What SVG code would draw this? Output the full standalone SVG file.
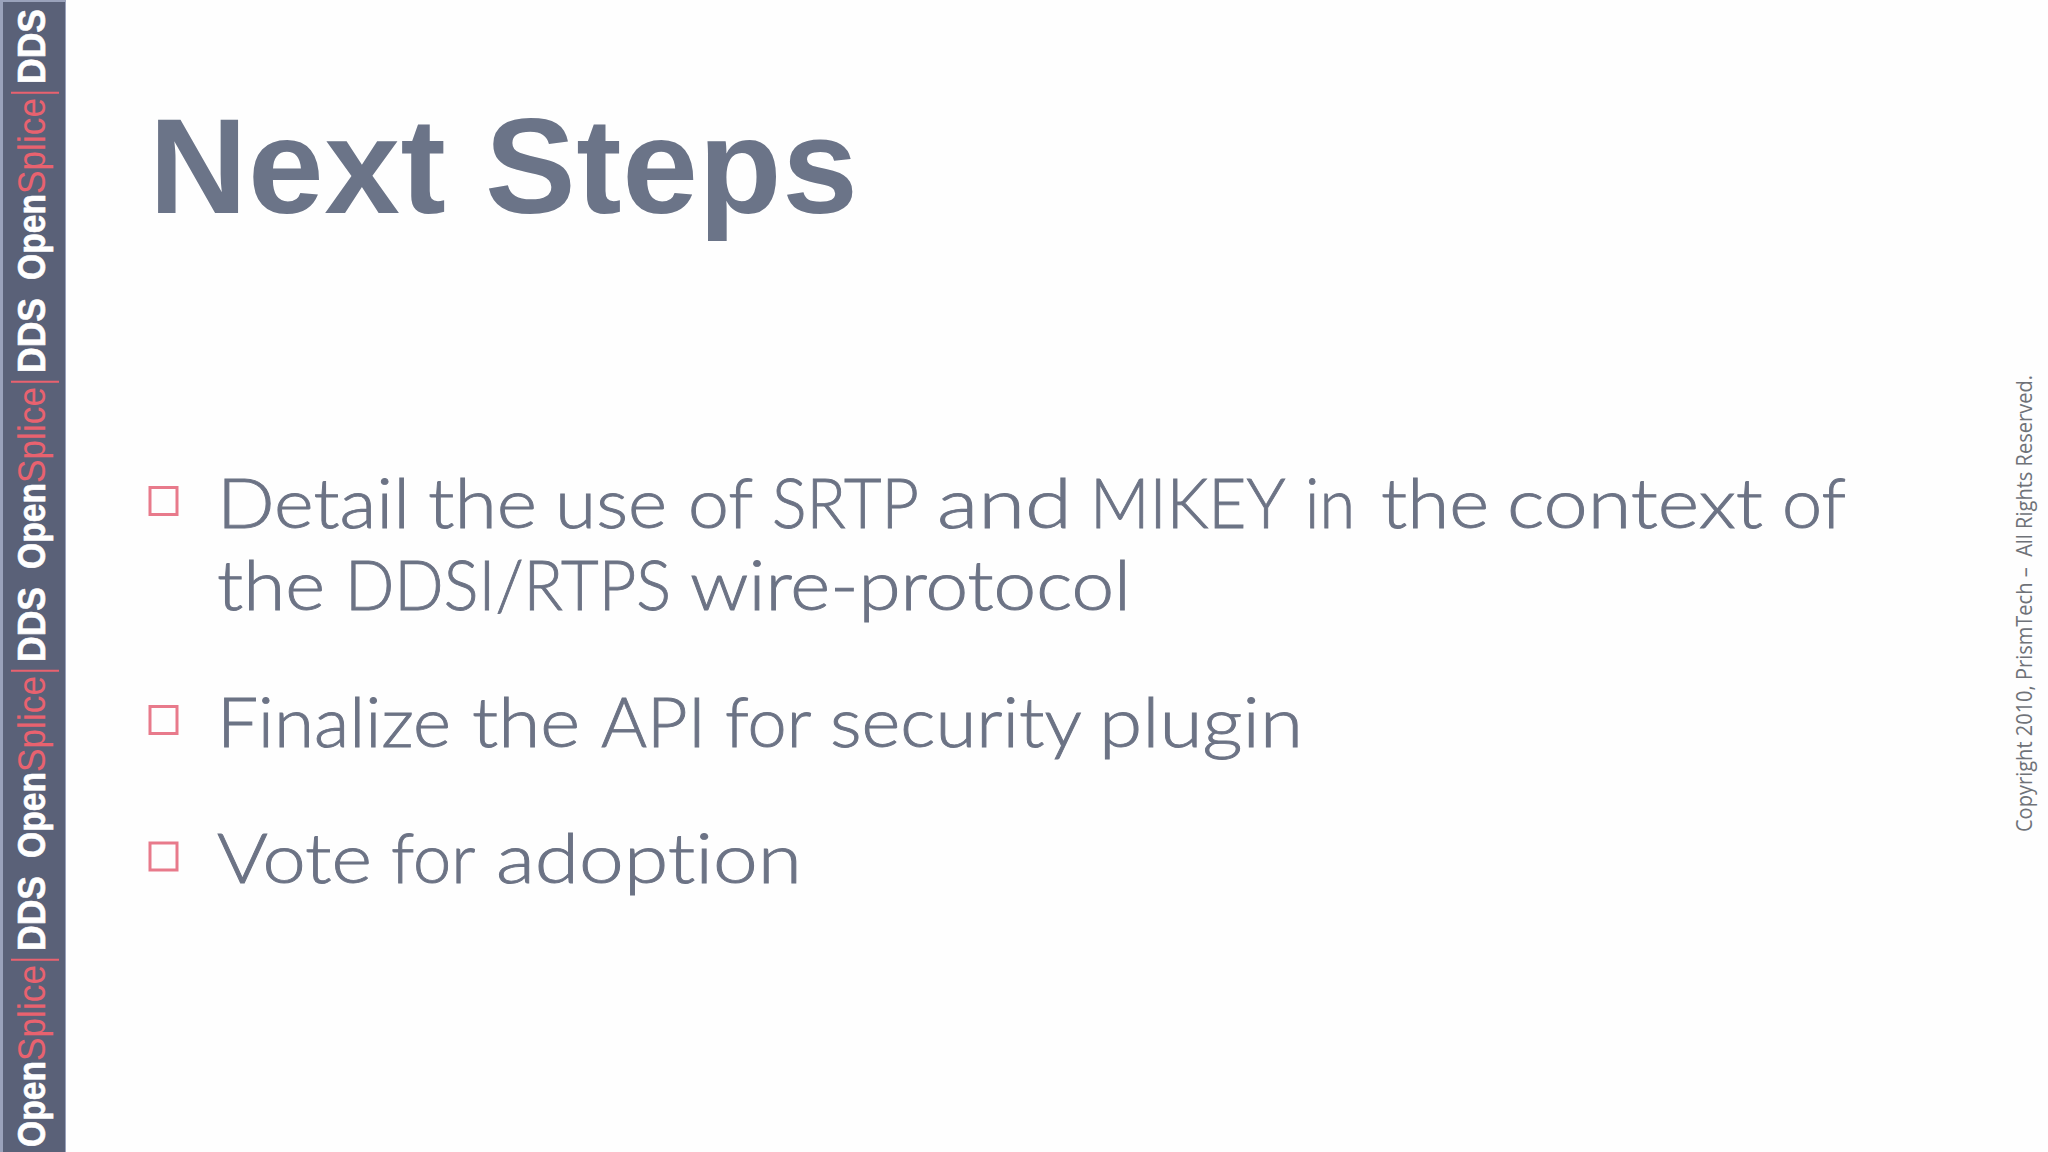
<svg xmlns="http://www.w3.org/2000/svg" width="2048" height="1152" viewBox="0 0 2048 1152">
<defs>
<style>
.title{font:bold 136px "Liberation Sans",Arial,sans-serif;fill:#6b7488}
.body{font:300 68px Lato,"Noto Sans",sans-serif;fill:#6c7385;stroke:#6c7385;stroke-width:.9;font-variant-ligatures:none}
.bullet{fill:none;stroke:#e87a8b;stroke-width:3}
.w{font:bold 39px "Liberation Sans",Arial,sans-serif;fill:#fff;stroke:#fff;stroke-width:.6}
.p{font:39px "Liberation Sans",Arial,sans-serif;fill:#e8626f}
.bar{font:300 52px Lato,sans-serif;fill:#e8626f}
.copy{font:21px "Open Sans",sans-serif;fill:#6f7278}
</style>
<g id="unit">
<text class="w" transform="translate(45 0) rotate(-90)" textLength="86" lengthAdjust="spacingAndGlyphs">Open</text>
<text class="p" transform="translate(45 -86) rotate(-90)" textLength="96" lengthAdjust="spacingAndGlyphs">Splice</text>
<text class="bar" transform="translate(50 -181) rotate(-90)">|</text>
<text class="w" transform="translate(45 -196) rotate(-90)" textLength="75" lengthAdjust="spacingAndGlyphs">DDS</text>
</g>
</defs>
<rect width="2048" height="1152" fill="#fefefe"/>
<g id="sidebar">
<rect x="0" y="0" width="66" height="1152" fill="#9aa2bb"/>
<rect x="3" y="2" width="62" height="1150" fill="#5a6178"/>
<use href="#unit" y="1147"/>
<use href="#unit" y="858"/>
<use href="#unit" y="569"/>
<use href="#unit" y="280"/>
</g>
<g id="title"><text class="title" x="149" y="213" textLength="709">Next Steps</text></g>
<g id="item1">
<rect class="bullet" x="150" y="487.500" width="27" height="27"/>
<text class="body" y="528"><tspan x="217" textLength="193" lengthAdjust="spacingAndGlyphs">Detail</tspan> <tspan x="428" textLength="109" lengthAdjust="spacingAndGlyphs">the</tspan> <tspan x="555" textLength="112" lengthAdjust="spacingAndGlyphs">use</tspan> <tspan x="688" textLength="64" lengthAdjust="spacingAndGlyphs">of</tspan> <tspan x="772" textLength="145" lengthAdjust="spacingAndGlyphs">SRTP</tspan> <tspan x="937" textLength="135" lengthAdjust="spacingAndGlyphs">and</tspan> <tspan x="1090" textLength="193" lengthAdjust="spacingAndGlyphs">MIKEY</tspan> <tspan x="1305" textLength="50" lengthAdjust="spacingAndGlyphs">in</tspan> <tspan x="1381" textLength="108" lengthAdjust="spacingAndGlyphs">the</tspan> <tspan x="1507" textLength="256" lengthAdjust="spacingAndGlyphs">context</tspan> <tspan x="1782" textLength="64" lengthAdjust="spacingAndGlyphs">of</tspan></text>
<text class="body" y="610"><tspan x="217" textLength="108" lengthAdjust="spacingAndGlyphs">the</tspan> <tspan x="345" textLength="326" lengthAdjust="spacingAndGlyphs">DDSI/RTPS</tspan> <tspan x="690" textLength="441" lengthAdjust="spacingAndGlyphs">wire-protocol</tspan></text>
</g>
<g id="item2">
<rect class="bullet" x="150" y="706.500" width="27" height="27"/>
<text class="body" y="747"><tspan x="217" textLength="234" lengthAdjust="spacingAndGlyphs">Finalize</tspan> <tspan x="472" textLength="108" lengthAdjust="spacingAndGlyphs">the</tspan> <tspan x="601" textLength="105" lengthAdjust="spacingAndGlyphs">API</tspan> <tspan x="725" textLength="85" lengthAdjust="spacingAndGlyphs">for</tspan> <tspan x="830" textLength="250" lengthAdjust="spacingAndGlyphs">security</tspan> <tspan x="1099" textLength="204" lengthAdjust="spacingAndGlyphs">plugin</tspan></text>
</g>
<g id="item3">
<rect class="bullet" x="150" y="843" width="27" height="27"/>
<text class="body" y="883"><tspan x="217" textLength="155" lengthAdjust="spacingAndGlyphs">Vote</tspan> <tspan x="391" textLength="83" lengthAdjust="spacingAndGlyphs">for</tspan> <tspan x="496" textLength="306" lengthAdjust="spacingAndGlyphs">adoption</tspan></text>
</g>
<g id="copyright"><text class="copy" transform="translate(2032 832) rotate(-90)" textLength="457" lengthAdjust="spacingAndGlyphs" xml:space="preserve">Copyright 2010, PrismTech –  All Rights Reserved.</text></g>
</svg>
